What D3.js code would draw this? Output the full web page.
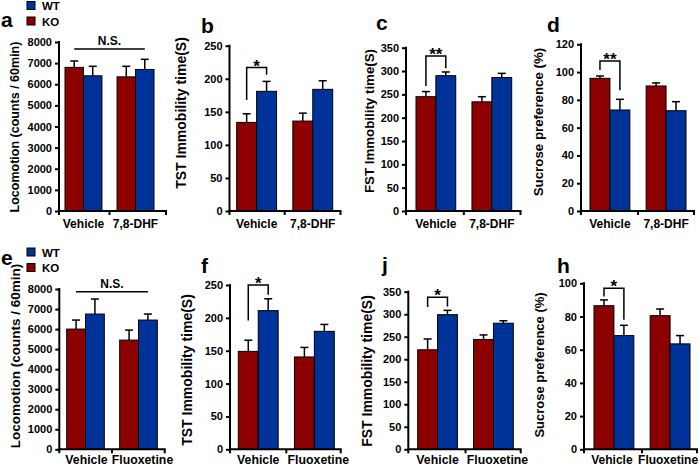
<!DOCTYPE html>
<html><head><meta charset="utf-8">
<script src="https://cdn.jsdelivr.net/npm/d3@7"></script>
<style>
body{margin:0;background:#fff;}
svg{display:block;font-family:"Liberation Sans",Arial,sans-serif;font-weight:bold;}
</style></head>
<body><svg id="c" width="700" height="467"></svg>
<script>
// ---------- data ----------
const seriesNames = ["KO", "WT"];
const groupsTop = ["Vehicle", "7,8-DHF"];
const groupsBottom = ["Vehicle", "Fluoxetine"];

const yLabelLoco = "Locomotion (counts / 60min)";
const yLabelTST = "TST Immobility time(S)";
const yLabelFST = "FST Immobility time(S)";
const yLabelSuc = "Sucrose preference (%)";

const ticksLoco = [0,1000,2000,3000,4000,5000,6000,7000,8000];
const ticksTST = [0,50,100,150,200,250];
const ticksFST = [0,50,100,150,200,250,300,350];
const ticksSuc120 = [0,20,40,60,80,100,120];
const ticksSuc100 = [0,20,40,60,80,100];

// panel a
const koA = [6800, 6350], koAErr = [300, 500];
const wtA = [6400, 6700], wtAErr = [450, 480];
// panel b
const koB = [134, 136], koBErr = [13, 12];
const wtB = [181, 184], wtBErr = [15, 13];
// panel c
const koC = [245, 234], koCErr = [11, 11];
const wtC = [290, 286], wtCErr = [8, 9];
// panel d
const koD = [95.5, 90], koDErr = [1.7, 2.2];
const wtD = [72.7, 72.2], wtDErr = [7.7, 6.5];
// panel e
const koE = [6000, 5450], koEErr = [450, 500];
const wtE = [6750, 6450], wtEErr = [750, 300];
// panel f
const koF = [149, 140.5], koFErr = [17, 14.5];
const wtF = [211, 179.5], wtFErr = [18, 10.5];
// panel j
const koJ = [221, 244], koJErr = [24, 10];
const wtJ = [299, 280], wtJErr = [9.6, 5.5];
// panel h
const koH = [86.5, 80.5], koHErr = [3.5, 4];
const wtH = [68.5, 63.5], wtHErr = [6.2, 5];

// significance: [label, bracket top, left leg end, right leg end] in data units
const sigB = ["*", 217, 168, 206];
const sigC = ["**", 332, 268, 306];
const sigD = ["**", 108, 101.5, 87];
const sigF = ["*", 250, 196, 235];
const sigJ = ["*", 337.6, 316, 317];
const sigH = ["*", 97, 92, 78];
// N.S. line level
const nsA = 7670;
const nsE = 7860;

// ---------- layout (positions only) ----------
const colors = {KO: "#8c0000", WT: "#003399"};
const panels = [
  {id:"a", groups:groupsTop, ko:koA, koErr:koAErr, wt:wtA, wtErr:wtAErr, ticks:ticksLoco, ylab:yLabelLoco, ns:nsA,
   x:59, x1:167, bx0:65, bx1:154, yTop:42, yBot:211, labX:15, labY:127, labFs:12.5, idX:1, idY:26.5, legend:true, legY:1.5, xfs:12, xdy:17, xdx:[0,0]},
  {id:"b", groups:groupsTop, ko:koB, koErr:koBErr, wt:wtB, wtErr:wtBErr, ticks:ticksTST, ylab:yLabelTST, sig:sigB,
   x:229.5, x1:341.5, bx0:236.7, bx1:332.7, yTop:45.7, yBot:211, labX:181, labY:113, labFs:14, idX:201, idY:33, xfs:12, xdy:17, xdx:[0,0]},
  {id:"c", groups:groupsTop, ko:koC, koErr:koCErr, wt:wtC, wtErr:wtCErr, ticks:ticksFST, ylab:yLabelFST, sig:sigC,
   x:406, x1:521.5, bx0:416, bx1:511.7, yTop:47.7, yBot:211, labX:369, labY:121, labFs:13.3, idX:376, idY:30, xfs:12, xdy:17, xdx:[0,0]},
  {id:"d", groups:groupsTop, ko:koD, koErr:koDErr, wt:wtD, wtErr:wtDErr, ticks:ticksSuc120, ylab:yLabelSuc, sig:sigD,
   x:581, x1:695, bx0:590, bx1:686, yTop:44.3, yBot:211, labX:538, labY:122, labFs:13.3, idX:547, idY:31.5, xfs:12, xdy:17, xdx:[0,0]},
  {id:"e", groups:groupsBottom, ko:koE, koErr:koEErr, wt:wtE, wtErr:wtEErr, ticks:ticksLoco, ylab:yLabelLoco, ns:nsE,
   x:59.3, x1:165.7, bx0:66.7, bx1:157.3, yTop:289, yBot:449.3, labX:15, labY:356, labFs:13.5, idX:1, idY:265, legend:true, legY:248, xfs:12.3, xdy:14.5, xdx:[1,4]},
  {id:"f", groups:groupsBottom, ko:koF, koErr:koFErr, wt:wtF, wtErr:wtFErr, ticks:ticksTST, ylab:yLabelTST, sig:sigF,
   x:230, x1:341.7, bx0:238.3, bx1:334.3, yTop:285, yBot:449.3, labX:187, labY:370, labFs:14, idX:201, idY:273, xfs:12.3, xdy:14.5, xdx:[0,4]},
  {id:"j", groups:groupsBottom, ko:koJ, koErr:koJErr, wt:wtJ, wtErr:wtJErr, ticks:ticksFST, ylab:yLabelFST, sig:sigJ,
   x:408.3, x1:521.7, bx0:417.7, bx1:513.3, yTop:291.7, yBot:449.3, labX:367, labY:371, labFs:14, idX:382, idY:272, xfs:12.3, xdy:14.5, xdx:[0,4]},
  {id:"h", groups:groupsBottom, ko:koH, koErr:koHErr, wt:wtH, wtErr:wtHErr, ticks:ticksSuc100, ylab:yLabelSuc, sig:sigH,
   x:584, x1:698, bx0:594, bx1:690, yTop:283.3, yBot:449.3, labX:539, labY:365, labFs:13, idX:557, idY:273, xfs:12, xdy:14.5, xdx:[-2,-2]}
];

const svg = d3.select("#c");

panels.forEach(p => {
  const g = svg.append("g");
  const y = d3.scaleLinear().domain([0, d3.max(p.ticks)]).range([p.yBot, p.yTop]);
  const xg = d3.scaleBand().domain(p.groups).range([p.bx0, p.bx1]).paddingInner(0.29).paddingOuter(0);
  const xs = d3.scaleBand().domain(seriesNames).range([0, xg.bandwidth()]).padding(0);

  const rows = [];
  p.groups.forEach((grp, i) => {
    rows.push({grp, s:"KO", v:p.ko[i], e:p.koErr[i]});
    rows.push({grp, s:"WT", v:p.wt[i], e:p.wtErr[i]});
  });

  // error bars (up only)
  const cx = d => xg(d.grp) + xs(d.s) + xs.bandwidth()/2;
  g.selectAll(".eb").data(rows).join("line")
    .attr("x1", cx).attr("x2", cx)
    .attr("y1", d => y(d.v)).attr("y2", d => y(d.v + d.e))
    .attr("stroke", "#000").attr("stroke-width", 1.5);
  g.selectAll(".cap").data(rows).join("line")
    .attr("x1", d => cx(d) - 4).attr("x2", d => cx(d) + 4)
    .attr("y1", d => y(d.v + d.e)).attr("y2", d => y(d.v + d.e))
    .attr("stroke", "#000").attr("stroke-width", 1.5);

  // bars
  g.selectAll(".bar").data(rows).join("rect")
    .attr("x", d => xg(d.grp) + xs(d.s))
    .attr("y", d => y(d.v))
    .attr("width", xs.bandwidth())
    .attr("height", d => p.yBot - y(d.v))
    .attr("fill", d => colors[d.s])
    .attr("stroke", "#000").attr("stroke-width", 1);

  // y axis
  const ax = g.append("g").attr("transform", `translate(${p.x},0)`)
    .call(d3.axisLeft(y).tickValues(p.ticks).tickSize(4).tickSizeOuter(0).tickPadding(3).tickFormat(d3.format("d")));
  ax.select(".domain").attr("stroke-width", 2).attr("d", `M0,${p.yTop - 1}V${p.yBot + 1}`);
  ax.selectAll(".tick line").attr("stroke-width", 2);
  ax.selectAll(".tick text").attr("font-size", 11).attr("font-weight", "bold")
    .attr("font-family", '"Liberation Sans",Arial,sans-serif').attr("fill", "#000");

  // x axis
  g.append("line").attr("x1", p.x - 1).attr("x2", p.x1).attr("y1", p.yBot).attr("y2", p.yBot)
    .attr("stroke", "#000").attr("stroke-width", 2);
  const midTick = (xg(p.groups[0]) + xg.bandwidth() + xg(p.groups[1])) / 2;
  g.selectAll(".xt").data([p.x, midTick, p.x1 - 1]).join("line")
    .attr("x1", d => d).attr("x2", d => d).attr("y1", p.yBot).attr("y2", p.yBot + 4)
    .attr("stroke", "#000").attr("stroke-width", 2);
  g.selectAll(".xl").data(p.groups).join("text")
    .attr("x", (d, i) => xg(d) + xg.bandwidth()/2 + p.xdx[i]).attr("y", p.yBot + p.xdy)
    .attr("text-anchor", "middle").attr("font-size", p.xfs).text(d => d);

  // y label
  g.append("text").attr("transform", `translate(${p.labX},${p.labY}) rotate(-90)`)
    .attr("text-anchor", "middle").attr("dominant-baseline", "central")
    .attr("font-size", p.labFs).text(p.ylab);

  // panel letter
  g.append("text").attr("x", p.idX).attr("y", p.idY).attr("font-size", 21).text(p.id);

  // N.S.
  if (p.ns !== undefined) {
    const l = xg(p.groups[0]) + xs.bandwidth()/2;
    const r = xg(p.groups[1]) + xs("WT") + xs.bandwidth()/2;
    g.append("line").attr("x1", l).attr("x2", r).attr("y1", y(p.ns)).attr("y2", y(p.ns))
      .attr("stroke", "#000").attr("stroke-width", 1.5);
    g.append("text").attr("x", (l + r)/2).attr("y", y(p.ns) - 4)
      .attr("text-anchor", "middle").attr("font-size", 12).text("N.S.");
  }

  // significance bracket
  if (p.sig) {
    const [lab, top, le, re] = p.sig;
    const l = xg(p.groups[0]) + xs("KO") + xs.bandwidth()/2;
    const r = xg(p.groups[0]) + xs("WT") + xs.bandwidth()/2;
    g.append("path").attr("d", `M${l},${y(le)}V${y(top)}H${r}V${y(re)}`)
      .attr("fill", "none").attr("stroke", "#000").attr("stroke-width", 1.5);
    g.append("text").attr("x", (l + r)/2).attr("y", y(top) + 4)
      .attr("text-anchor", "middle").attr("font-size", 17).text(lab);
  }

  // legend
  if (p.legend) {
    const lg = g.append("g");
    const items = ["WT", "KO"];
    lg.selectAll("rect").data(items).join("rect")
      .attr("x", 27).attr("y", (d, i) => p.legY + i * 15.5).attr("width", 8).attr("height", 8)
      .attr("fill", d => colors[d]).attr("stroke", "#000").attr("stroke-width", 1);
    lg.selectAll("text").data(items).join("text")
      .attr("x", 42).attr("y", (d, i) => p.legY + i * 15.5 + 8.5).attr("font-size", 11.5).text(d => d);
  }
});
</script>
</body></html>
